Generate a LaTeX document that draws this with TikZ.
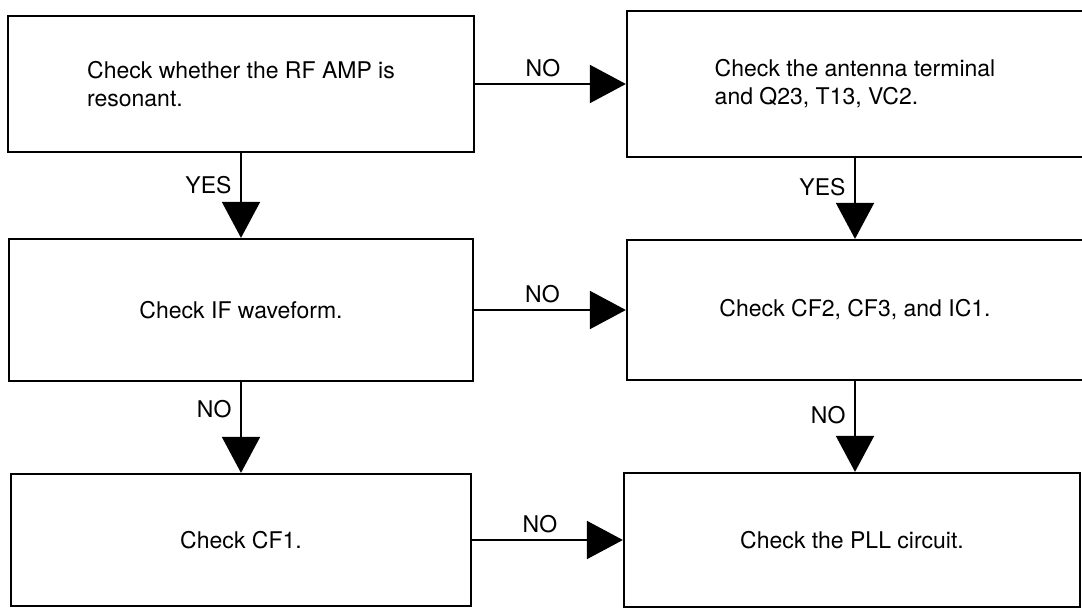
\documentclass[tikz,border=0pt]{standalone}
\usepackage{fontspec}
\setmainfont{TeX Gyre Heros}
\usetikzlibrary{arrows.meta,positioning}

\begin{document}
\begin{tikzpicture}[x=0.5pt, y=-0.5pt, ->, >={Triangle[length=18pt,width=19pt]}, shorten >=0pt, line width=0.9pt, font=\fontsize{11.5}{14}\selectfont]
\tikzset{check/.style={draw, rectangle, line width=1.1pt, align=left, inner sep=0pt}}
\useasboundingbox (0,0) rectangle (1082,615);

    \node [check, minimum width=233pt, minimum height=68pt] (rfamp) at (241,84) {Check whether the RF AMP is\\resonant.};
    \node [check, minimum width=232pt, minimum height=71pt] (ifwave) at (241,310) {Check IF waveform.};
    \node [check, minimum width=230pt, minimum height=66pt] (cfone) at (241,540) {Check CF1.};
    \node [check, minimum width=228pt, minimum height=73pt] (antenna) at (855,84) {Check the antenna terminal\\and Q23, T13, VC2.};
    \node [check, minimum width=228pt, minimum height=70pt] (cftwo) at (855,310) {Check CF2, CF3, and IC1.};
    \node [check, minimum width=228pt, minimum height=67pt] (pll) at (852,540) {Check the PLL circuit.};

    \path (rfamp) edge node [above, pos=0.45] {NO} (antenna)
          (ifwave) edge node [above, pos=0.45] {NO} (cftwo)
          (cfone) edge node [above, pos=0.45] {NO} (pll)
          (rfamp) edge node [left=1pt, pos=0.38] {YES} (ifwave)
          (ifwave) edge node [left=1pt, pos=0.3] {NO} (cfone)
          (antenna) edge node [left=1pt, pos=0.36] {YES} (cftwo)
          (cftwo) edge node [left=1pt, pos=0.37] {NO} (pll.north -| cftwo);

\end{tikzpicture}
\end{document}
